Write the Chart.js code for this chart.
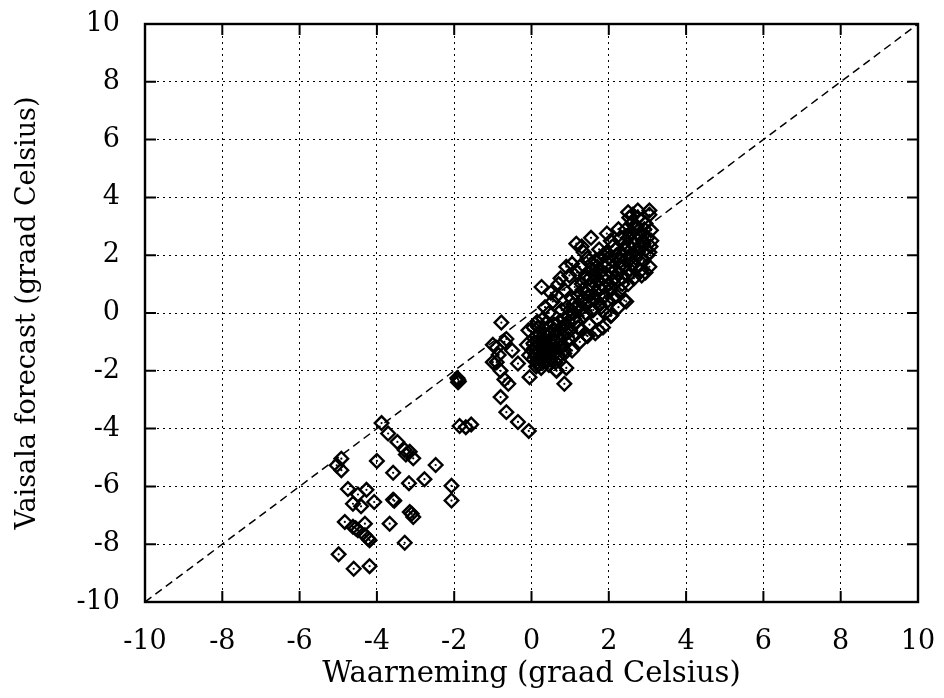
<!DOCTYPE html>
<html>
<head>
<meta charset="utf-8">
<script src="https://cdn.jsdelivr.net/npm/chart.js@4"></script>
<style>
  html, body { margin: 0; padding: 0; background: #fff; }
  #wrap { width: 944px; height: 698px; }
</style>
</head>
<body>
<div id="wrap"><canvas id="scatterChart" width="944" height="698"></canvas></div>
<script>
// Axis setup
const AXIS_MIN = -10;
const AXIS_MAX = 10;
const tickValues = [-10, -8, -6, -4, -2, 0, 2, 4, 6, 8, 10];
const xTitle = 'Waarneming (graad Celsius)';
const yTitle = 'Vaisala forecast (graad Celsius)';

// [waarneming, vaisala] pairs
const coldPoints = [
    [-3.88, -3.81], [-3.71, -4.17], [-3.47, -4.46], [-3.28, -4.74], [-3.15, -4.80],
    [-3.06, -5.03], [-3.25, -4.90], [-4.92, -5.04], [-5.04, -5.27], [-4.92, -5.44],
    [-4.00, -5.12], [-3.58, -5.53], [-2.48, -5.26], [-2.77, -5.75], [-3.17, -5.89],
    [-2.07, -5.98], [-2.07, -6.49], [-4.75, -6.09], [-4.49, -6.28], [-4.27, -6.12],
    [-4.62, -6.60], [-4.41, -6.69], [-4.07, -6.54], [-3.58, -6.46], [-3.55, -6.50],
    [-3.15, -6.89], [-3.06, -7.06], [-3.10, -6.95], [-3.67, -7.29], [-3.28, -7.95],
    [-4.83, -7.23], [-4.62, -7.40], [-4.49, -7.52], [-4.31, -7.29], [-4.31, -7.69],
    [-4.19, -7.86], [-4.23, -7.80], [-4.55, -7.45], [-4.99, -8.35], [-4.60, -8.85],
    [-4.19, -8.76]
];

const midPoints = [
    [-1.90, -2.30], [-1.88, -2.36], [-1.92, -2.25], [-1.90, -2.40],
    [-1.86, -3.91], [-1.56, -3.86], [-1.70, -3.95],
    [-0.80, -2.91], [-0.65, -3.43], [-0.35, -3.77], [-0.07, -4.08],
    [-1.00, -1.10], [-0.90, -1.70], [-1.00, -1.70], [-0.78, -0.33], [-0.70, -1.00],
    [-0.65, -0.90], [-0.50, -1.30], [-0.80, -2.00], [-0.70, -2.30], [-0.60, -2.45],
    [-0.05, -2.22], [-0.90, -1.20], [-0.85, -1.45], [-0.35, -1.75]
];

const mainPoints = [
    [0.05, -1.60], [0.10, -1.40], [0.08, -1.20], [0.15, -1.00], [0.12, -0.80],
    [0.05, -0.50], [0.18, -1.80], [0.02, -1.30], [0.15, -0.30], [-0.08, -0.60],
    [-0.12, -1.10], [-0.06, -1.46],
    [0.25, -1.90], [0.30, -1.70], [0.35, -1.50], [0.28, -1.20], [0.32, -0.90],
    [0.38, -0.60], [0.30, -0.20], [0.35, 0.20], [0.26, 0.90], [0.22, -1.10], [0.40, -1.40],
    [0.45, -1.80], [0.50, -1.60], [0.55, -1.30], [0.48, -1.00], [0.52, -0.70],
    [0.58, -0.40], [0.45, 0.00], [0.55, 0.40], [0.50, 0.70], [0.42, -1.10],
    [0.65, -2.00], [0.70, -1.50], [0.75, -1.20], [0.68, -0.80], [0.72, -0.30],
    [0.78, 0.10], [0.65, 0.60], [0.70, 1.00], [0.75, 1.20],
    [0.85, -2.45], [0.90, -1.90], [0.85, -1.40], [0.95, -0.90], [0.88, -0.40],
    [0.92, 0.20], [0.85, 0.80], [0.98, 1.30], [0.90, 1.60], [0.95, -0.10],
    [1.05, -1.30], [1.10, -0.80], [1.15, -0.30], [1.08, 0.30], [1.12, 0.90],
    [1.18, 1.40], [1.05, 1.70], [1.16, 2.40], [1.10, 0.00],
    [1.25, -1.00], [1.30, -0.60], [1.35, -0.10], [1.28, 0.40], [1.32, 0.80],
    [1.38, 1.20], [1.25, 1.60], [1.35, 2.10], [1.30, 2.30],
    [1.45, -0.80], [1.50, -0.40], [1.55, 0.10], [1.48, 0.60], [1.52, 1.00],
    [1.58, 1.50], [1.45, 1.90], [1.54, 2.60], [1.42, 0.30],
    [1.65, -0.70], [1.70, -0.20], [1.75, 0.30], [1.68, 0.70], [1.72, 1.10],
    [1.78, 1.40], [1.65, 1.80], [1.75, 2.20], [1.62, 0.50],
    [1.85, -0.50], [1.90, 0.00], [1.95, 0.40], [1.88, 0.90], [1.92, 1.30],
    [1.98, 1.70], [1.85, 2.00], [1.95, 2.75], [1.82, 1.00],
    [2.05, -0.10], [2.10, 0.50], [2.15, 1.00], [2.08, 1.40], [2.12, 1.80],
    [2.18, 2.20], [2.05, 2.50],
    [2.25, 0.20], [2.30, 0.80], [2.35, 1.20], [2.28, 1.60], [2.32, 2.00],
    [2.38, 2.40], [2.25, 2.90],
    [2.45, 0.40], [2.50, 1.00], [2.55, 1.50], [2.48, 1.90], [2.52, 2.30],
    [2.58, 2.80], [2.53, 3.30], [2.50, 3.49],
    [2.65, 1.20], [2.70, 1.60], [2.75, 2.10], [2.68, 2.60], [2.72, 3.00],
    [2.75, 3.55], [2.62, 3.40],
    [2.85, 1.30], [2.90, 1.80], [2.95, 2.20], [2.88, 2.50], [2.92, 2.90],
    [3.05, 3.40], [3.05, 3.55], [3.00, 2.00], [3.08, 2.30], [2.83, 1.47],
    [3.09, 2.86], [2.40, 0.44], [2.07, -0.08], [1.73, -0.60], [1.42, -0.77],
    [0.85, -1.29], [0.64, -1.98], [0.26, -1.63]
];

// the dense core of the main cloud, where diamonds overlap into a black mass
const corePoints = [
    [0.10, -1.50], [0.20, -1.30], [0.15, -1.70], [0.25, -1.00], [0.30, -1.40],
    [0.35, -1.10], [0.40, -0.80], [0.20, -0.70], [0.45, -1.30], [0.50, -0.90],
    [0.55, -1.10], [0.60, -0.60], [0.60, -1.40], [0.65, -1.00], [0.70, -0.60],
    [0.75, -0.90], [0.80, -0.50], [0.80, -1.10], [0.85, -0.20], [0.90, -0.70],
    [0.95, -0.30], [1.00, 0.10], [1.00, -0.60], [1.05, 0.50], [1.10, -0.20],
    [1.15, 0.20], [1.20, 0.60], [1.20, -0.50], [1.25, 0.10], [1.30, 1.00],
    [1.35, 0.50], [1.40, 0.00], [1.40, 1.30], [1.45, 0.80], [1.50, 1.20],
    [1.50, 0.40], [1.55, 1.70], [1.60, 0.90], [1.60, 0.10], [1.65, 1.30],
    [1.70, 0.40], [1.70, 1.60], [1.75, 0.90], [1.80, 1.90], [1.80, 0.20],
    [1.85, 1.20], [1.90, 1.60], [1.90, 0.60], [1.95, 2.10], [2.00, 1.00],
    [2.00, 1.90], [2.05, 0.80], [2.10, 1.60], [2.10, 2.30], [2.15, 1.20],
    [2.20, 2.00], [2.20, 0.60], [2.25, 1.40], [2.30, 2.60], [2.30, 1.80],
    [2.35, 1.00], [2.40, 2.20], [2.40, 1.60], [2.45, 2.90], [2.50, 1.30],
    [2.50, 2.60], [2.55, 2.00], [2.60, 3.10], [2.60, 1.70], [2.65, 2.40],
    [2.70, 2.90], [2.70, 1.90], [2.75, 3.30], [2.80, 2.30], [2.80, 2.70],
    [2.85, 3.20], [2.90, 2.40], [2.95, 3.10], [3.00, 2.60], [3.05, 2.10],
    [3.05, 1.60], [3.10, 2.50], [2.95, 1.40], [2.85, 1.90],
    [0.05, -1.05], [0.12, -1.85], [0.22, -1.55], [0.32, -1.05], [0.42, -1.65],
    [0.48, -0.45], [0.58, -0.95], [0.62, -1.70], [0.38, -0.35], [0.18, -0.50]
];

const allPoints = coldPoints.concat(midPoints, mainPoints, corePoints).map(p => ({ x: p[0], y: p[1] }));
const diagonal = [{ x: AXIS_MIN, y: AXIS_MIN }, { x: AXIS_MAX, y: AXIS_MAX }];

// inner tick marks on all four sides, like the printed plot
const innerTicks = {
    id: 'innerTicks',
    afterDatasetsDraw(chart) {
        const { ctx, chartArea, scales } = chart;
        const len = 11;
        ctx.save();
        ctx.strokeStyle = '#000';
        ctx.lineWidth = 2;
        ctx.beginPath();
        tickValues.forEach(v => {
            const px = scales.x.getPixelForValue(v);
            ctx.moveTo(px, chartArea.bottom);
            ctx.lineTo(px, chartArea.bottom - len);
            ctx.moveTo(px, chartArea.top);
            ctx.lineTo(px, chartArea.top + len);
            const py = scales.y.getPixelForValue(v);
            ctx.moveTo(chartArea.left, py);
            ctx.lineTo(chartArea.left + len, py);
            ctx.moveTo(chartArea.right, py);
            ctx.lineTo(chartArea.right - len, py);
        });
        ctx.stroke();
        ctx.lineWidth = 2.4;
        ctx.strokeRect(chartArea.left, chartArea.top, chartArea.right - chartArea.left, chartArea.bottom - chartArea.top);
        ctx.restore();
    }
};

const serif = 'DejaVu Serif';

function axisOptions(title, isY) {
    return {
        type: 'linear',
        min: AXIS_MIN,
        max: AXIS_MAX,
        afterBuildTicks: scale => { scale.ticks = tickValues.map(v => ({ value: v })); },
        afterFit: scale => {
            // fixed plot box: no extra room for the end labels
            if (isY) {
                scale.width = 145;
                scale.paddingTop = 0;
                scale.paddingBottom = 0;
            } else {
                scale.height = 96;
                scale.paddingLeft = 0;
                scale.paddingRight = 0;
            }
        },
        grid: {
            color: '#000',
            lineWidth: 1,
            drawTicks: false
        },
        // in v4 the dash of the grid lines lives on the border options
        border: { display: false, dash: [2, 4] },
        ticks: {
            color: '#000',
            padding: isY ? 25 : 24,
            font: { family: serif, size: 27 },
            callback: v => String(v)
        },
        title: {
            display: true,
            text: title,
            color: '#000',
            font: { family: serif, size: isY ? 27 : 29 },
            padding: isY ? { top: 12, bottom: 0 } : { top: 0, bottom: 6 }
        }
    };
}

new Chart(document.getElementById('scatterChart'), {
    type: 'scatter',
    data: {
        datasets: [
            {
                label: 'diagonal',
                type: 'line',
                data: diagonal,
                borderColor: '#000',
                borderWidth: 1.5,
                borderDash: [8, 5],
                pointRadius: 0,
                fill: false
            },
            {
                label: 'forecast',
                data: allPoints,
                pointStyle: 'rectRot',
                pointRadius: 6.8,
                borderColor: '#000',
                borderWidth: 2.4,
                backgroundColor: 'rgba(255,255,255,0)'
            },
            {
                label: 'centres',
                data: allPoints,
                pointStyle: 'circle',
                pointRadius: 1.1,
                borderWidth: 0,
                backgroundColor: '#000'
            }
        ]
    },
    options: {
        responsive: false,
        animation: false,
        layout: { padding: { top: 24, right: 26, left: 0, bottom: 0 } },
        plugins: {
            legend: { display: false },
            tooltip: { enabled: false }
        },
        scales: {
            x: axisOptions(xTitle, false),
            y: axisOptions(yTitle, true)
        }
    },
    plugins: [innerTicks]
});
</script>
</body>
</html>
